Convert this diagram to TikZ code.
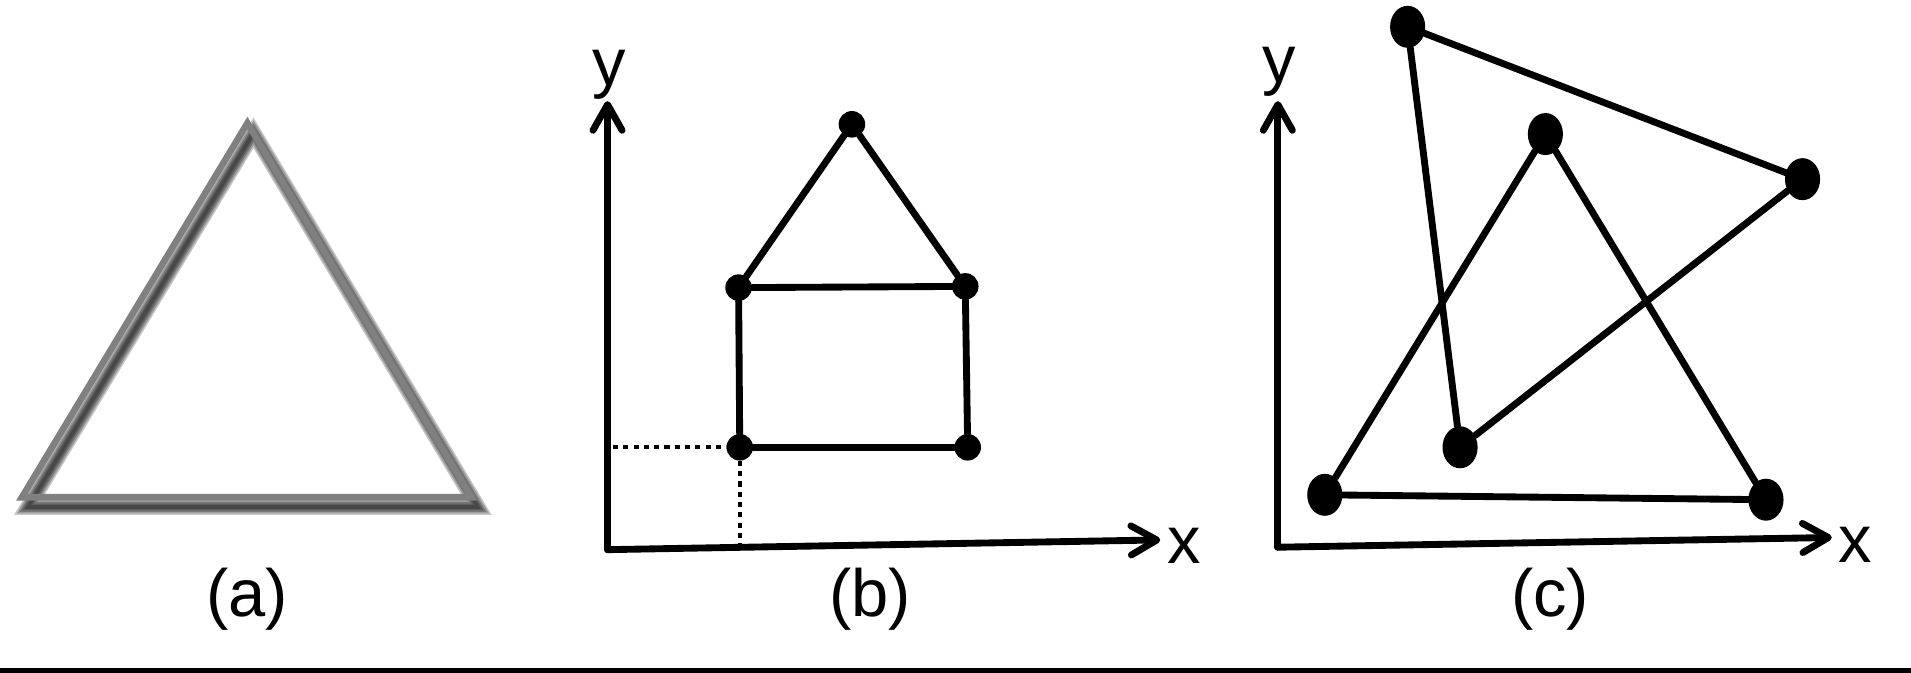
\documentclass[tikz,border=0pt]{standalone}
\usepackage{fontspec}
\setmainfont{Liberation Sans}
\usetikzlibrary{arrows.meta,shapes.geometric}
\begin{document}
\begin{tikzpicture}[x=0.025cm,y=-0.025cm,
  edge/.style={line width=4pt, line cap=round},
  axis/.style={line width=4pt, line cap=round, -{Straight Barb[length=15pt,width=17pt,round]}},
  dotline/.style={line width=2.5pt, dash pattern=on 3pt off 3pt},
  hdot/.style={circle, fill=black, inner sep=0pt, minimum size=15.5pt},
  cdot/.style={ellipse, fill=black, inner sep=0pt, minimum width=20.5pt, minimum height=24.5pt},
  lab/.style={inner sep=0pt, font=\fontsize{39}{41}\selectfont},
  axlab/.style={inner sep=0pt, font=\fontsize{39}{41}\selectfont},
  tri/.style={draw=black!50, line width=3.8pt, line join=miter},
  shadowline/.style={draw=black, line join=miter, opacity=0.22}
]
\fill[white] (0,0) rectangle (1568,552);
\useasboundingbox (0,0) rectangle (1568,552);

% ---------- (a) ----------
\coordinate (aT) at (203,101);
\coordinate (aL) at (18,408);
\coordinate (aR) at (387,408);
\foreach \w in {13,10.5,8,5.5,3} {
  \draw[shadowline, line width=\w*0.711pt]
    ([shift={(5,8)}]aT) -- ([shift={(5,8)}]aR) -- ([shift={(5,8)}]aL) -- cycle;
}
\draw[tri] (aT) -- (aR) -- (aL) -- cycle;
\node[lab] (la) at (203,492) {(a)};

% ---------- (b) ----------
\coordinate (bO) at (498.5,451);
\coordinate (bY) at (498.5,83);
\coordinate (bX) at (952,443);
\draw[axis] (bO) -- (bY);
\draw[axis] (bO) -- (bX);
\node[axlab] (byl) at (500,61) {y};
\node[axlab] (bxl) at (972,448) {x};

\node[hdot] (bA) at (699,102) {};
\node[hdot] (bLM) at (606,236) {};
\node[hdot] (bRM) at (792,235) {};
\node[hdot] (bBL) at (607,367) {};
\node[hdot] (bBR) at (794,367) {};
\draw[edge] (bA) -- (bLM);
\draw[edge] (bA) -- (bRM);
\draw[edge] (bLM) -- (bRM);
\draw[edge] (bLM) -- (bBL);
\draw[edge] (bRM) -- (bBR);
\draw[edge] (bBL) -- (bBR);
\coordinate (bdy) at (503,367);
\coordinate (bdx) at (607,448);
\draw[dotline] (bdy) -- (bBL.west);
\draw[dotline] (bBL.south) -- (bdx);
\node[lab] (lb) at (714,492) {(b)};

% ---------- (c) ----------
\coordinate (cO) at (1048.5,449);
\coordinate (cY) at (1048.5,83);
\coordinate (cX) at (1503,441);
\draw[axis] (cO) -- (cY);
\draw[axis] (cO) -- (cX);
\node[axlab] (cyl) at (1050,59) {y};
\node[axlab] (cxl) at (1522,447) {x};

\node[cdot] (cA) at (1155,22) {};
\node[cdot] (cB) at (1479,147) {};
\node[cdot] (cC) at (1268,110) {};
\node[cdot] (cD) at (1198,367) {};
\node[cdot] (cE) at (1087,406) {};
\node[cdot] (cF) at (1449,410) {};
\draw[edge] (cA) -- (cB);
\draw[edge] (cA) -- (cD);
\draw[edge] (cB) -- (cD);
\draw[edge] (cC) -- (cE);
\draw[edge] (cC) -- (cF);
\draw[edge] (cE) -- (cF);
\node[lab] (lc) at (1272,492) {(c)};

% ---------- bottom rule ----------
\fill[black] (0,548) rectangle (1568,552);
\end{tikzpicture}
\end{document}
